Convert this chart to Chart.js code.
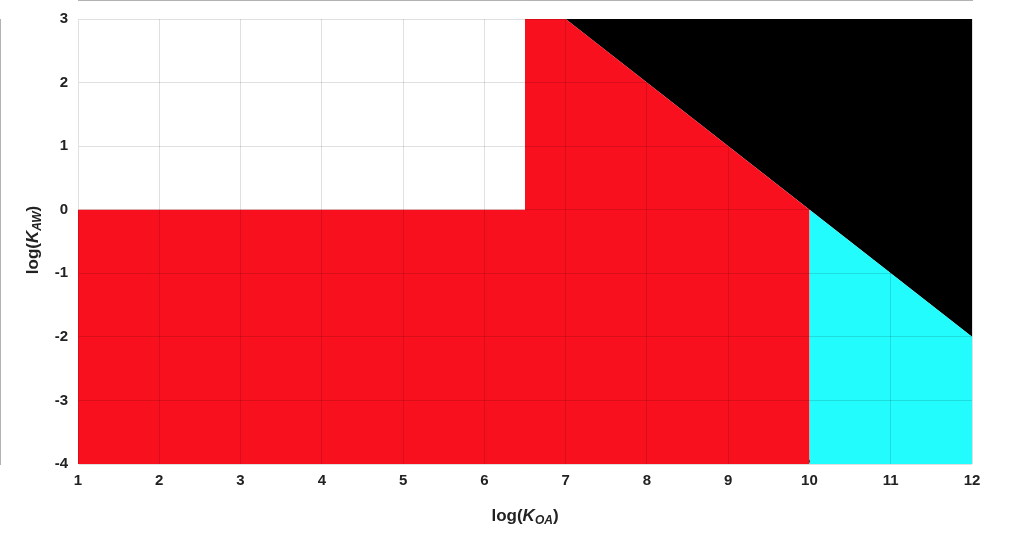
<!DOCTYPE html>
<html><head><meta charset="utf-8">
<script src="https://cdn.jsdelivr.net/npm/chart.js@4/dist/chart.umd.min.js"></script>
<style>html,body{margin:0;padding:0;background:#fff}#w{width:1016px;height:542px}</style>
</head><body><div id="w"><canvas id="c"></canvas></div>
<script>
const xTicks=[1,2,3,4,5,6,7,8,9,10,11,12];
const yTicks=[-4,-3,-2,-1,0,1,2,3];
const redX=[1,6.5,6.5,7,10,10], redY=[0,0,3,3,0,-4];
const cyanX=[10,12], cyanY=[0,-2];
const blackX=[7,12], blackY=[3,-2];
const hatchX1=[1,1,1,1,1.33,1.97,2.52,3.09,3.67,4.25,4.75,5.37,5.99,6.6,7.27,7.91,8.47,9.02,9.49,9.98,10.43];
const hatchY1=[-2.39,-2.86,-3.31,-3.75,-4,-4,-4,-4,-4,-4,-4,-4,-4,-4,-4,-4,-4,-4,-4,-4,-4];
const hatchX2=[1.39,1.84,2.28,2.78,3.30,3.89,4.38,4.92,5.45,6.0,6.53,7.08,7.45,7.77,8.28,8.70,9.0,9.38,9.72,10.1,10.53];
const hatchY2=[-2,-2,-2,-2,-2,-2,-2,-2,-2,-2,-2,-2.07,-2.27,-2.58,-2.77,-3.05,-3.31,-3.52,-3.67,-3.75,-3.83];
const diamondX=[1.12], diamondY=[-0.48];
const squareX=[4.38,5.08,5.63,6.8], squareY=[-1.05,-1.73,-1.75,-2.45];
const crossX=[5.95,6.38,6.45,6.6,7.03,7.03,7.25,7.45,7.5,7.78,8.0,8.18,8.2,8.38,8.92,9.72];
const crossY=[-1.93,-1.78,-1.93,-1.62,-1.42,-1.72,-2.13,-2.12,-1.87,-1.68,-2.08,-1.85,-1.82,-1.98,-1.73,-2.35];
const circleX=[7.65,7.72,8.92,9.83], circleY=[-2.37,-3.9,-2.9,-3.6];

const pts=(xs,ys)=>xs.map((x,i)=>({x,y:ys[i]}));
const hatch=[];
hatchX1.forEach((x,i)=>{hatch.push({x,y:hatchY1[i]},{x:hatchX2[i],y:hatchY2[i]},{x:hatchX2[i],y:null});});
const mk=(data,style,r)=>({type:'scatter',data,pointStyle:style,pointRadius:r,pointBorderColor:'#000',pointBackgroundColor:'rgba(0,0,0,0)',pointBorderWidth:1.3,showLine:false});
const area=(data,color,fill)=>({type:'line',data,borderWidth:0,borderColor:color,backgroundColor:color,fill,pointRadius:0,tension:0});

const titles={id:'titles',afterDraw(ch){const c=ch.ctx;c.save();c.fillStyle='#222';
 const draw=(x,y,rot)=>{c.save();c.translate(x,y);c.rotate(rot);
  const parts=[['log(','bold 17px "Liberation Sans"',0],['K','bold italic 17px "Liberation Sans"',0],[rot?'AW':'OA','bold italic 12px "Liberation Sans"',5],[')','bold 17px "Liberation Sans"',0]];
  let w=0;parts.forEach(p=>{c.font=p[1];w+=c.measureText(p[0]).width;});
  let px=-w/2;c.textBaseline='middle';parts.forEach(p=>{c.font=p[1];c.fillText(p[0],px,p[2]);px+=c.measureText(p[0]).width;});c.restore();};
 draw(525,516,0);draw(33,240,-Math.PI/2);c.restore();}};

new Chart(document.getElementById('c'),{
 data:{datasets:[
  area(pts(redX,redY),'#F8101E','start'),
  area(pts(cyanX,cyanY),'#22FCFC','start'),
  area(pts(blackX,blackY),'#000000','end'),
  {type:'line',data:hatch,borderColor:'#000',borderWidth:1.2,pointRadius:0,fill:false,spanGaps:false},
  mk(pts(diamondX,diamondY),'rectRot',6),
  mk(pts(squareX,squareY),'rect',5),
  mk(pts(crossX,crossY),'crossRot',5),
  mk(pts(circleX,circleY),'circle',6.5)
 ]},
 options:{responsive:true,maintainAspectRatio:false,animation:false,
  layout:{padding:{left:0,top:15,right:44,bottom:0}},
  plugins:{legend:{display:false},tooltip:{enabled:false}},
  scales:{
   x:{type:'linear',min:1,max:12,afterFit(s){s.height=78;},
    afterBuildTicks(s){s.ticks=xTicks.map(v=>({value:v}));},
    grid:{color:'rgba(0,0,0,0.12)',z:1,drawTicks:false},border:{color:'#666'},
    ticks:{color:'#222',padding:8,font:{family:'"Liberation Sans"',size:15,weight:'bold'}}},
   y:{type:'linear',min:-4,max:3,afterFit(s){s.width=78;},
    afterBuildTicks(s){s.ticks=yTicks.map(v=>({value:v}));},
    grid:{color:'rgba(0,0,0,0.12)',z:1,drawTicks:false},border:{color:'#666'},
    ticks:{color:'#222',padding:10,font:{family:'"Liberation Sans"',size:15,weight:'bold'}}}
  }},
 plugins:[titles]
});
</script></body></html>
